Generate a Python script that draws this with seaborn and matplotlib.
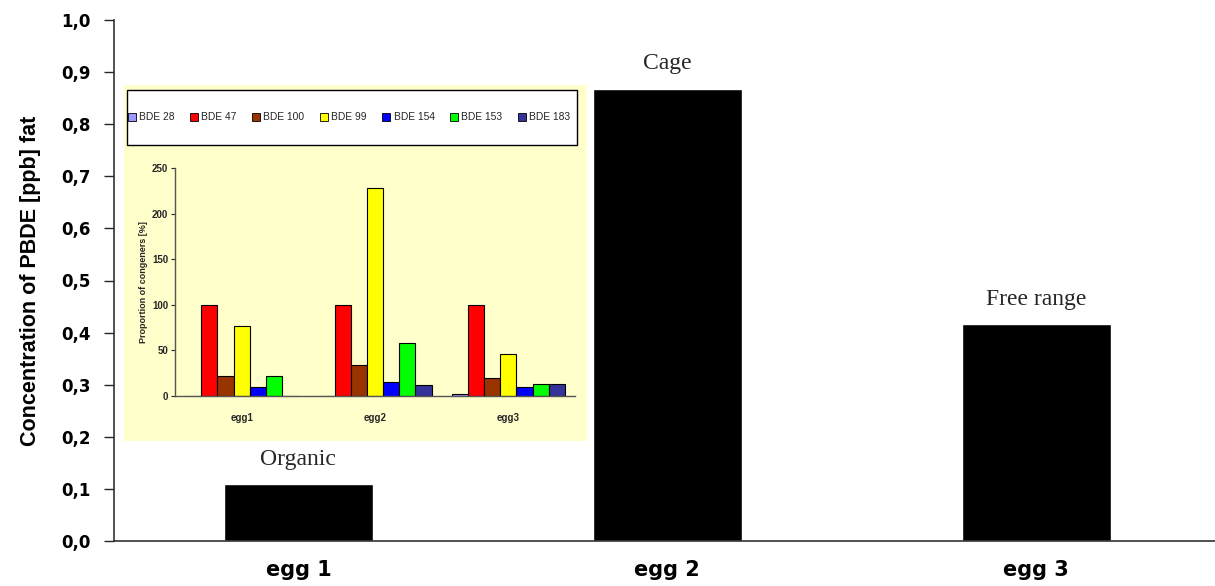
import numpy as np
import pandas as pd
import seaborn as sns
import matplotlib.pyplot as plt
from matplotlib.patches import Rectangle
from matplotlib.ticker import FuncFormatter

# main chart data
EGGS = ['egg 1', 'egg 2', 'egg 3']
PBDE_FAT = [0.109, 0.868, 0.416]
HOUSING = ['Organic', 'Cage', 'Free range']

# inset data: proportion of congeners relative to BDE 47 (%)
INSET_EGGS = ['egg1', 'egg2', 'egg3']
CONGENERS = ['BDE 28', 'BDE 47', 'BDE 100', 'BDE 99', 'BDE 154', 'BDE 153', 'BDE 183']
BDE28 = [0, 0, 2.5]
BDE47 = [100, 100, 100]
BDE100 = [22, 34.5, 20]
BDE99 = [76.5, 228, 46]
BDE154 = [9.5, 15.5, 9.5]
BDE153 = [22, 58.5, 13.5]
BDE183 = [0, 12.5, 13.5]
CONGENER_COLORS = ['#9999FF', '#FF0000', '#993300', '#FFFF00', '#0000FF', '#00FF00', '#333399']

W, H = 1215, 586
NARROW = ['Liberation Sans', 'DejaVu Sans']

sns.set_style('ticks')
plt.rcParams['font.family'] = ['DejaVu Sans']

fig = plt.figure(figsize=(W / 100, H / 100), dpi=100)

# ---- main bar chart
ax = fig.add_axes([114 / W, 1 - 541 / H, (W - 114) / W, (541 - 20) / H])
df_main = pd.DataFrame({'egg': EGGS, 'conc': PBDE_FAT})
sns.barplot(data=df_main, x='egg', y='conc', color='black', width=0.404,
            saturation=1, ax=ax)
ax.set_xlim(-0.5, 2.485)
ax.set_ylim(0, 1.0)
ax.set_yticks(np.arange(0, 1.01, 0.1))
ax.yaxis.set_major_formatter(FuncFormatter(lambda v, p: f'{v:.1f}'.replace('.', ',')))
ax.tick_params(axis='y', length=7, width=1, direction='out', labelsize=12, pad=10,
               labelcolor='black')
ax.tick_params(axis='x', length=0, labelsize=15, pad=14, labelcolor='black')
for lbl in ax.get_yticklabels() + ax.get_xticklabels():
    lbl.set_fontweight('bold')
ax.set_xlabel('')
ax.set_ylabel('Concentration of PBDE [ppb] fat', fontsize=15.5, fontweight='bold',
              family=NARROW, labelpad=14, color='black')
for side in ['top', 'right']:
    ax.spines[side].set_visible(False)
for side in ['left', 'bottom']:
    ax.spines[side].set_color('#333333')
    ax.spines[side].set_linewidth(1.2)

for i, (v, name) in enumerate(zip(PBDE_FAT, HOUSING)):
    ax.text(i, v + 0.028, name, ha='center', va='bottom', fontsize=17,
            family=['Liberation Serif', 'DejaVu Serif'])

# ---- inset panel background
panel = fig.add_axes([124 / W, 1 - 441 / H, (587 - 124) / W, (441 - 85) / H])
panel.set_facecolor('#FFFFCC')
panel.set_xticks([])
panel.set_yticks([])
for s in panel.spines.values():
    s.set_visible(False)

# ---- inset bar chart
ins = fig.add_axes([175 / W, 1 - 396 / H, 400 / W, (396 - 168) / H])
ins.patch.set_alpha(0)
df_ins = pd.DataFrame({
    'egg': np.repeat(INSET_EGGS, len(CONGENERS)),
    'congener': CONGENERS * len(INSET_EGGS),
    'value': np.column_stack([BDE28, BDE47, BDE100, BDE99, BDE154, BDE153, BDE183]).ravel(),
})
sns.barplot(data=df_ins, x='egg', y='value', hue='congener', hue_order=CONGENERS,
            palette=CONGENER_COLORS, width=0.85, saturation=1, edgecolor='black',
            linewidth=0.8, legend=False, ax=ins)
ins.set_xlim(-0.5, 2.5)
ins.set_ylim(0, 250)
ins.set_yticks([0, 50, 100, 150, 200, 250])
ins.tick_params(axis='y', length=3, width=0.8, labelsize=7, pad=2)
ins.tick_params(axis='x', length=0, labelsize=7, pad=12)
for lbl in ins.get_yticklabels() + ins.get_xticklabels():
    lbl.set_fontweight('bold')
    lbl.set_family(NARROW)
ins.set_xlabel('')
ins.set_ylabel('Proportion of congeners [%]', fontsize=6.5, fontweight='bold',
               family=NARROW, labelpad=3)
for side in ['top', 'right']:
    ins.spines[side].set_visible(False)
for side in ['left', 'bottom']:
    ins.spines[side].set_color('#555555')
    ins.spines[side].set_linewidth(1)

# ---- inset legend box
fig.patches.append(Rectangle((127 / W, 1 - 145 / H), (577 - 127) / W, (145 - 90) / H,
                             transform=fig.transFigure, facecolor='white',
                             edgecolor='black', linewidth=1, zorder=5))
handles = [Rectangle((0, 0), 1, 1, facecolor=c, edgecolor='black', linewidth=0.6)
           for c in CONGENER_COLORS]
leg = fig.legend(handles, CONGENERS, loc='center', ncol=7, frameon=False,
                 bbox_to_anchor=(349 / W, 1 - 117.5 / H),
                 handlelength=0.8, handleheight=0.8, handletextpad=0.3,
                 columnspacing=1.5, prop={'family': NARROW, 'size': 7.4})
leg.set_zorder(6)

fig.savefig('out.png', dpi=100)
